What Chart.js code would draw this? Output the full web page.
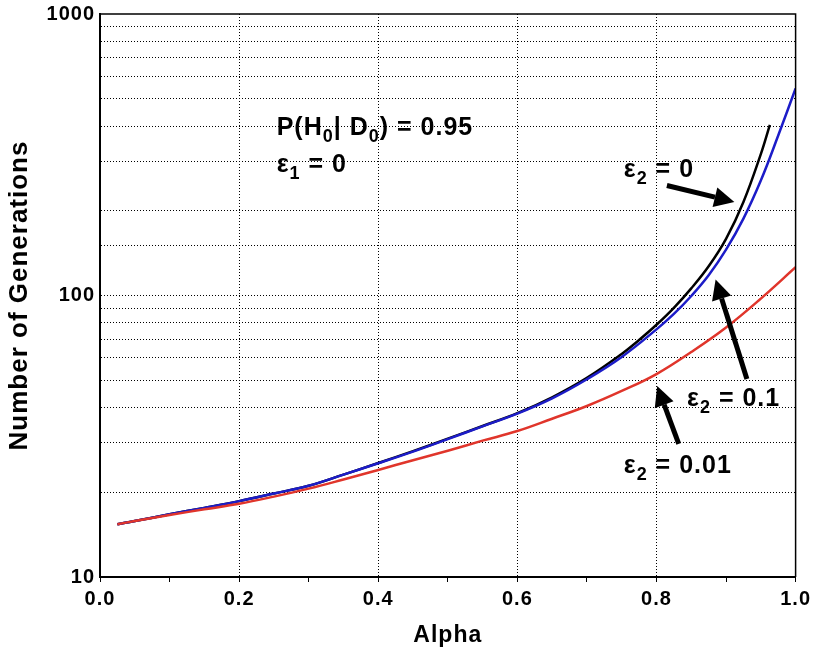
<!DOCTYPE html>
<html>
<head>
<meta charset="utf-8">
<script src="https://cdn.jsdelivr.net/npm/chart.js@4.4.0/dist/chart.umd.min.js"></script>
<style>
  html, body { margin: 0; padding: 0; background: #fff; }
  #wrap { width: 816px; height: 653px; }
</style>
</head>
<body>
<div id="wrap"><canvas id="grafico" width="816" height="653"></canvas></div>
<script>
// valores
const blackAlpha = [0.025,0.05,0.1,0.15,0.2,0.25,0.3,0.35,0.4,0.45,0.5,0.55,0.6,0.65,0.7,0.75,0.775,0.8,0.825,0.85,0.875,0.9,0.925,0.95,0.963];
const blackGen   = [15.4,15.8,16.7,17.6,18.6,19.8,21.1,23.1,25.4,28.0,31.0,34.4,38.2,43.5,51,62,69.5,78.7,90.4,106,127,159,215,318,404];

const blueAlpha = [0.025,0.05,0.1,0.15,0.2,0.25,0.3,0.35,0.4,0.45,0.5,0.55,0.6,0.65,0.7,0.75,0.8,0.825,0.85,0.875,0.9,0.925,0.95,0.975,1.0];
const blueGen   = [15.4,15.8,16.7,17.6,18.6,19.8,21.1,23.1,25.35,27.9,30.9,34.3,38.05,43.1,50.4,60.5,75.8,86,99.6,118,145.5,187.5,256,370,544];

const redAlpha = [0.025,0.05,0.1,0.15,0.2,0.25,0.3,0.35,0.4,0.45,0.5,0.55,0.6,0.65,0.7,0.75,0.8,0.85,0.9,0.95,1.0];
const redGen   = [15.4,15.8,16.6,17.4,18.2,19.3,20.6,22.2,24.0,26.0,28.1,30.5,33.0,36.5,40.5,45.8,52.6,63,77,97.5,126];

const yLabels = [10, 100, 1000];

const pontos = (xs, ys) => xs.map((x,i)=>({x:x, y:ys[i]}));

const fonte = "'Liberation Sans', Arial, sans-serif";

// textos com subscrito e setas
const notas = [
  { x:0.254, y:371, partes:[["P(H",0],["0",1],["| D",0],["0",1],[") = 0.95",0]] },
  { x:0.254, y:274, partes:[["\u03b5",0],["1",1],[" = 0",0]] },
  { x:0.753, y:263, partes:[["\u03b5",0],["2",1],[" = 0",0]] },
  { x:0.844, y:40.5, partes:[["\u03b5",0],["2",1],[" = 0.1",0]] },
  { x:0.753, y:23.5, partes:[["\u03b5",0],["2",1],[" = 0.01",0]] }
];
const setas = [
  { de:[0.815,246], para:[0.912,215] },
  { de:[0.930,50.5], para:[0.885,114] },
  { de:[0.832,29.7], para:[0.801,47.7] }
];

const espacamento = {
  id:'espacamento',
  beforeUpdate(chart){ chart.ctx.letterSpacing = '1px'; },
  beforeDraw(chart){ chart.ctx.letterSpacing = '1px'; }
};

const anotacoes = {
  id:'anotacoes',
  afterDatasetsDraw(chart){
    const ctx = chart.ctx, sx = chart.scales.x, sy = chart.scales.y;
    const a = chart.chartArea;
    ctx.save();
    // moldura superior e direita
    ctx.strokeStyle = '#000';
    ctx.lineWidth = 1.5;
    ctx.beginPath();
    ctx.moveTo(a.left, a.top); ctx.lineTo(a.right, a.top); ctx.lineTo(a.right, a.bottom);
    ctx.stroke();

    ctx.fillStyle = '#000';
    ctx.textBaseline = 'alphabetic';
    notas.forEach(n=>{
      let px = sx.getPixelForValue(n.x), py = sy.getPixelForValue(n.y);
      n.partes.forEach(([t, sub])=>{
        if(sub){
          ctx.font = `bold 18px ${fonte}`;
          ctx.fillText(t, px, py + 7);
        } else {
          ctx.font = `bold 25px ${fonte}`;
          ctx.fillText(t, px, py);
        }
        px += ctx.measureText(t).width;
      });
    });

    setas.forEach(s=>{
      const x1 = sx.getPixelForValue(s.de[0]), y1 = sy.getPixelForValue(s.de[1]);
      const x2 = sx.getPixelForValue(s.para[0]), y2 = sy.getPixelForValue(s.para[1]);
      const ang = Math.atan2(y2-y1, x2-x1);
      const cab = 20, larg = 10;
      const bx = x2 - cab*Math.cos(ang), by = y2 - cab*Math.sin(ang);
      ctx.lineWidth = 5;
      ctx.beginPath(); ctx.moveTo(x1,y1); ctx.lineTo(bx,by); ctx.stroke();
      ctx.beginPath();
      ctx.moveTo(x2,y2);
      ctx.lineTo(bx + larg*Math.sin(ang), by - larg*Math.cos(ang));
      ctx.lineTo(bx - larg*Math.sin(ang), by + larg*Math.cos(ang));
      ctx.closePath(); ctx.fill();
    });
    ctx.restore();
  }
};

const serie = (dados, cor) => ({
  data: dados, borderColor: cor, backgroundColor: cor, borderWidth: 2.5,
  pointRadius: 0, tension: 0.4, fill: false
});

new Chart(document.getElementById('grafico').getContext('2d'), {
  type: 'line',
  data: {
    datasets: [
      serie(pontos(redAlpha, redGen), '#e0352b'),
      serie(pontos(blueAlpha, blueGen), '#1c1cc8'),
      serie(pontos(blackAlpha, blackGen), '#000000')
    ]
  },
  options: {
    responsive: false,
    animation: false,
    layout: { padding: { left: 0, right: 19, top: 11, bottom: 0 } },
    plugins: { legend: { display: false }, tooltip: { enabled: false } },
    scales: {
      x: {
        type: 'linear', min: 0, max: 1,
        afterFit(s){ s.height = 653 - 577; },
        ticks: {
          stepSize: 0.1, autoSkip: false, color: '#000', padding: 5, maxRotation: 0,
          font: { family: fonte, size: 20, weight: 'bold' },
          callback: v => Math.round(v*10) % 2 === 0 ? v.toFixed(1) : ''
        },
        grid: {
          color: c => { const k = Math.round(c.tick.value*10); return (k % 2 === 0 && k > 0 && k < 10) ? '#000' : 'rgba(0,0,0,0)'; },
          tickColor: '#000', tickLength: 5, lineWidth: 1
        },
        border: { display: true, color: '#000', width: 2, dash: [1,2] },
        title: { display: true, text: 'Alpha', color: '#000', padding: { top: 6 },
                 font: { family: fonte, size: 23, weight: 'bold' } }
      },
      y: {
        type: 'logarithmic', min: 10, max: 1000,
        afterFit(s){ s.width = 100; },
        ticks: {
          autoSkip: false, color: '#000', padding: 2,
          font: { family: fonte, size: 20, weight: 'bold' },
          callback: v => yLabels.includes(v) ? String(v) : ''
        },
        grid: {
          color: c => (c.tick.value > 10 && c.tick.value < 1000) ? '#000' : 'rgba(0,0,0,0)',
          tickColor: 'rgba(0,0,0,0)', tickLength: 3, lineWidth: 1
        },
        border: { display: true, color: '#000', width: 2, dash: [1,2] },
        title: { display: true, text: 'Number of Generations', color: '#000', padding: { top: 4, bottom: 4 },
                 font: { family: fonte, size: 26, weight: 'bold' } }
      }
    }
  },
  plugins: [espacamento, anotacoes]
});
</script>
</body>
</html>
